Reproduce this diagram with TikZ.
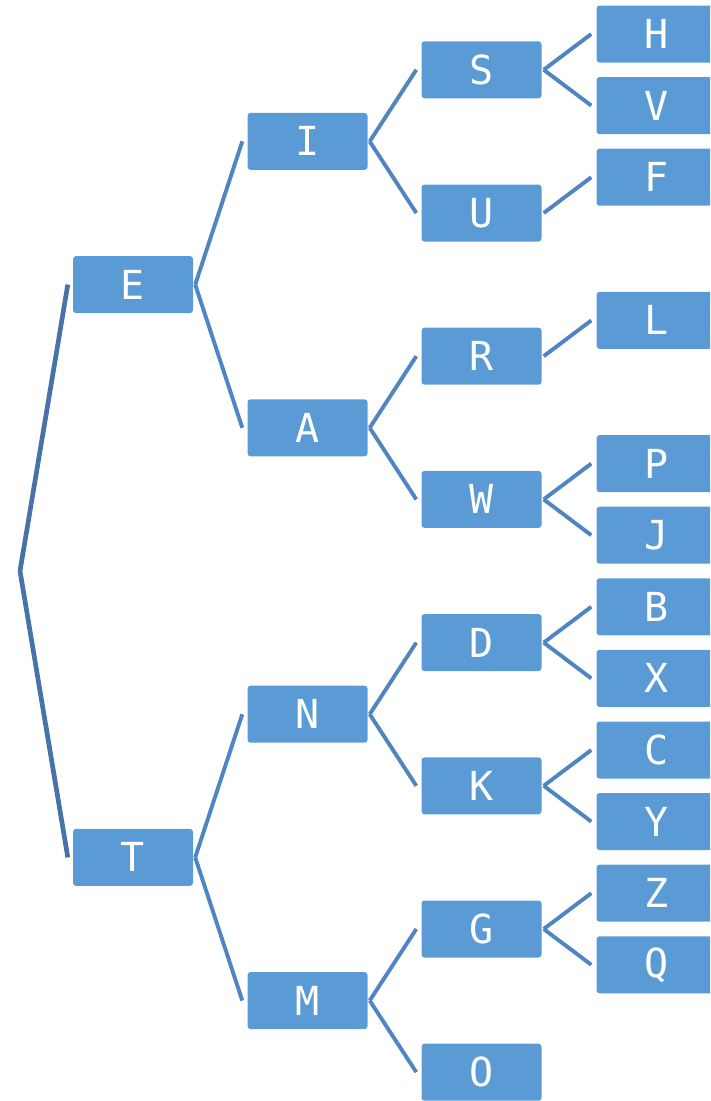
\documentclass[tikz,border=0pt]{standalone}
\usepackage{fontspec}
\newfontfamily\boxfont{DejaVu Sans Mono}
\usetikzlibrary{calc}
\definecolor{boxblue}{HTML}{5B9BD5}
\definecolor{linkblue}{HTML}{4F85C0}
\definecolor{rootblue}{HTML}{4674A9}
\tikzset{
  letter/.style={fill=boxblue, rounded corners=3pt, minimum width=120pt,
    minimum height=57pt, inner sep=0pt, text=white,
    font=\boxfont\fontsize{40}{40}\selectfont},
  link/.style={draw=linkblue, line width=3.9pt},
  rootlink/.style={draw=rootblue, line width=4.7pt},
}
\begin{document}
\begin{tikzpicture}[x=1pt,y=-1pt]
\useasboundingbox (0,0) rectangle (710,1101);
\clip (0,0) rectangle (710,1101);
% column centres
\def\ca{133}\def\cb{307.5}\def\cc{481.5}\def\cd{656.5}
% level 1
\node[letter] (E) at (\ca,284.6) {E};
\node[letter] (T) at (\ca,857.4) {T};
% level 2
\node[letter] (I) at (\cb,141.4) {I};
\node[letter] (A) at (\cb,427.8) {A};
\node[letter] (N) at (\cb,714.2) {N};
\node[letter] (M) at (\cb,1000.6) {M};
% level 3
\node[letter] (S) at (\cc,69.8) {S};
\node[letter] (U) at (\cc,213) {U};
\node[letter] (R) at (\cc,356.2) {R};
\node[letter] (W) at (\cc,499.4) {W};
\node[letter] (D) at (\cc,642.6) {D};
\node[letter] (K) at (\cc,785.8) {K};
\node[letter] (G) at (\cc,929) {G};
\node[letter] (O) at (\cc,1072.2) {O};
% level 4
\node[letter] (H) at (\cd,34) {H};
\node[letter] (V) at (\cd,105.6) {V};
\node[letter] (F) at (\cd,177.2) {F};
\node[letter] (L) at (\cd,320.4) {L};
\node[letter] (P) at (\cd,463.6) {P};
\node[letter] (J) at (\cd,535.2) {J};
\node[letter] (B) at (\cd,606.8) {B};
\node[letter] (X) at (\cd,678.4) {X};
\node[letter] (C) at (\cd,750) {C};
\node[letter] (Y) at (\cd,821.6) {Y};
\node[letter] (Z) at (\cd,893.2) {Z};
\node[letter] (Q) at (\cd,964.8) {Q};
% root branches
\coordinate (root) at (20,571);
\foreach \c in {E,T}
  \draw[rootlink] ($(\c.west)+(-5,0)$) -- (root);
% inner branches
\foreach \p/\c in {E/I,E/A,T/N,T/M,
                   I/S,I/U,A/R,A/W,N/D,N/K,M/G,M/O,
                   S/H,S/V,U/F,R/L,W/P,W/J,D/B,D/X,K/C,K/Y,G/Z,G/Q}
  \draw[link] ($(\p.east)+(2,0)$) -- ($(\c.west)+(-5,0)$);
\end{tikzpicture}
\end{document}
